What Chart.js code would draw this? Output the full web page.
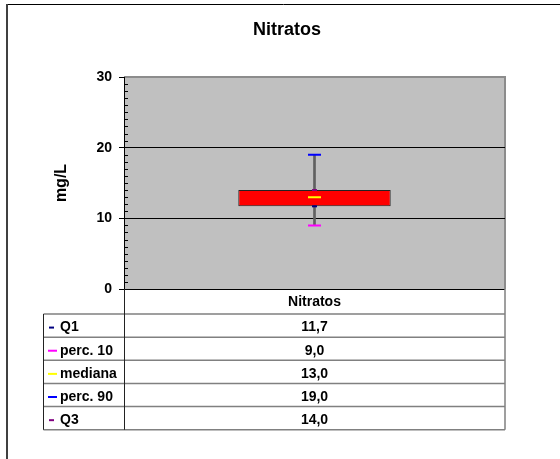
<!DOCTYPE html>
<html>
<head>
<meta charset="utf-8">
<script src="https://cdn.jsdelivr.net/npm/chart.js@4/dist/chart.umd.min.js"></script>
<style>
  body { margin: 0; background: #fff; }
  canvas { display: block; }
</style>
</head>
<body>
<canvas id="chart" width="560" height="459"></canvas>
<script>
const categories = ["Nitratos"];
const q1 = [11.7];
const perc10 = [9.0];
const mediana = [13.0];
const perc90 = [19.0];
const q3 = [14.0];
const yMin = 0;
const yMax = 30;
const yMajor = 10;

// rows of the data table, in the order shown
const rows = [
  { label: "Q1", data: q1, color: "#000080", key: 5 },
  { label: "perc. 10", data: perc10, color: "#FF00FF", key: 9 },
  { label: "mediana", data: mediana, color: "#FFFF00", key: 9 },
  { label: "perc. 90", data: perc90, color: "#0000FF", key: 9 },
  { label: "Q3", data: q3, color: "#800080", key: 5 }
];

const fmt = v => v.toFixed(1).replace(".", ",");
const FONT = "'Liberation Sans', Arial, sans-serif";

Chart.defaults.font.family = FONT;
Chart.defaults.font.weight = "bold";
Chart.defaults.color = "#000";

const markerSets = rows.map(r => ({
  type: "line",
  label: r.label,
  data: r.data,
  showLine: false,
  pointStyle: "line",
  pointRadius: r.key === 5 ? 2.5 : 6.5,
  pointBorderWidth: 2,
  pointBorderColor: r.color,
  pointBackgroundColor: r.color,
  order: r.label === "mediana" ? 0 : 1
}));

const frame = {
  id: "frame",
  beforeDraw(chart) {
    const c = chart.ctx, a = chart.chartArea;
    c.save();
    c.fillStyle = "#fff";
    c.fillRect(0, 0, chart.width, chart.height);
    // outer chart border
    c.strokeStyle = "#000";
    c.lineWidth = 1;
    c.beginPath();
    c.moveTo(7, 4.5); c.lineTo(chart.width, 4.5);
    c.stroke();
    c.strokeStyle = "#404040";
    c.lineWidth = 2;
    c.beginPath();
    c.moveTo(7, 4); c.lineTo(7, chart.height);
    c.stroke();
    // plot area
    c.fillStyle = "#C0C0C0";
    c.fillRect(a.left, a.top, a.right - a.left, a.bottom - a.top);
    c.strokeStyle = "#8c8c8c";
    c.lineWidth = 2;
    c.beginPath();
    c.moveTo(a.left, a.top); c.lineTo(a.right, a.top); c.lineTo(a.right, a.bottom);
    c.stroke();
    // title
    c.fillStyle = "#000";
    c.font = "bold 18px " + FONT;
    c.textAlign = "center";
    c.textBaseline = "middle";
    c.fillText("Nitratos", 287, 30);
    c.restore();
  },
  afterDraw(chart) {
    const c = chart.ctx, a = chart.chartArea, y = chart.scales.y, x = chart.scales.x;
    c.save();
    // minor ticks inside the plot
    c.strokeStyle = "#000";
    c.lineWidth = 1;
    c.beginPath();
    for (let v = yMin + 1; v < yMax; v++) {
      if (v % yMajor === 0) continue;
      const py = Math.round(y.getPixelForValue(v)) + 0.5;
      c.moveTo(a.left, py); c.lineTo(a.left + 4, py);
    }
    c.stroke();

    // data table
    const tLeft = 43.5, top = a.bottom, headH = 25, rowH = 23.15;
    const tBottom = top + headH + rowH * rows.length;
    c.strokeStyle = "#808080";
    c.lineWidth = 1.5;
    c.beginPath();
    for (let i = 0; i <= rows.length; i++) {
      const ly = top + headH + rowH * i;
      c.moveTo(tLeft, ly); c.lineTo(a.right, ly);
    }
    c.moveTo(a.right, top); c.lineTo(a.right, tBottom);
    c.stroke();
    c.strokeStyle = "#222";
    c.lineWidth = 1;
    c.beginPath();
    c.moveTo(tLeft, top + headH); c.lineTo(tLeft, tBottom);
    c.moveTo(a.left + 0.5, top); c.lineTo(a.left + 0.5, tBottom);
    c.stroke();

    c.fillStyle = "#000";
    c.font = "bold 14px " + FONT;
    c.textBaseline = "middle";
    c.textAlign = "center";
    categories.forEach((cat, i) => {
      const cx = x.getPixelForValue(i);
      c.fillText(cat, cx, top + headH / 2 + 1);
      rows.forEach((r, j) => {
        c.fillText(fmt(r.data[i]), cx, top + headH + rowH * j + rowH / 2 + 2);
      });
    });
    c.textAlign = "left";
    rows.forEach((r, j) => {
      const cy = top + headH + rowH * j + rowH / 2 + 2;
      c.fillStyle = "#000";
      c.fillText(r.label, 60, cy);
      c.strokeStyle = r.color;
      c.lineWidth = 2;
      c.beginPath();
      const kx = r.key === 5 ? 49 : 48;
      c.moveTo(kx, cy); c.lineTo(kx + r.key, cy);
      c.stroke();
    });
    c.restore();
  }
};

new Chart(document.getElementById("chart"), {
  type: "bar",
  data: {
    labels: categories,
    datasets: [
      {
        label: "whisker",
        data: perc10.map((v, i) => [v, perc90[i]]),
        backgroundColor: "#606060",
        barThickness: 2,
        grouped: false,
        order: 10
      },
      {
        label: "box",
        data: q1.map((v, i) => [v, q3[i]]),
        backgroundColor: "#FF0000",
        borderColor: "#222",
        borderWidth: 1,
        borderSkipped: false,
        barPercentage: 0.4,
        categoryPercentage: 1,
        grouped: false,
        order: 5
      },
      ...markerSets
    ]
  },
  options: {
    responsive: false,
    animation: false,
    devicePixelRatio: 1,
    layout: { padding: { left: 7, right: 55, top: 77, bottom: 170 } },
    plugins: {
      legend: { display: false },
      title: { display: false },
      tooltip: { enabled: false }
    },
    scales: {
      x: { display: false },
      y: {
        min: yMin,
        max: yMax,
        afterFit(scale) { scale.width = 117; },
        ticks: {
          stepSize: 1,
          autoSkip: false,
          padding: 7,
          font: { size: 14, weight: "bold" },
          color: "#000",
          callback: v => (v % yMajor === 0 ? String(v) : "")
        },
        grid: {
          tickLength: 5,
          lineWidth: 1,
          color: ctx => (ctx.tick && ctx.tick.value % yMajor === 0 && ctx.tick.value < yMax ? "#000" : "rgba(0,0,0,0)"),
          tickColor: ctx => (ctx.tick && ctx.tick.value % yMajor === 0 ? "#000" : "rgba(0,0,0,0)")
        },
        border: { display: true, color: "#000", width: 1 },
        title: {
          display: true,
          text: "mg/L",
          font: { size: 16, weight: "bold" },
          color: "#000",
          padding: { top: 45, bottom: 0 }
        }
      }
    }
  },
  plugins: [frame]
});
</script>
</body>
</html>
